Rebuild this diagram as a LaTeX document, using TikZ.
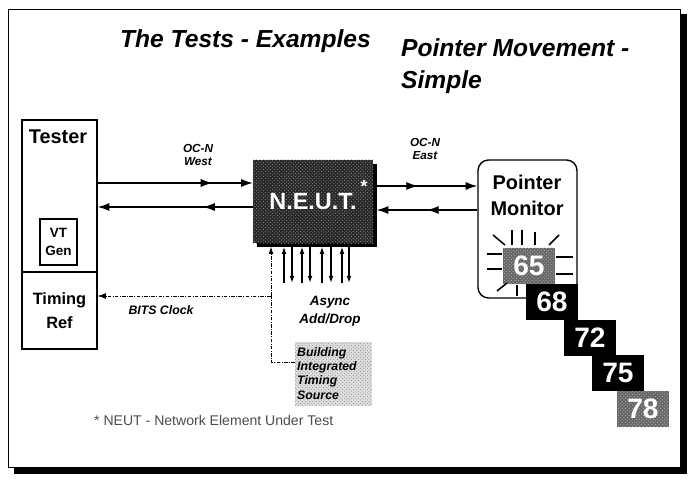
\documentclass[tikz,border=0pt]{standalone}
\usepackage{fontspec}
\setmainfont{Liberation Sans}
\usetikzlibrary{arrows.meta, positioning, calc, decorations.markings, patterns, shadows}

\tikzset{
  box/.style={draw, line width=1.2pt, inner sep=0pt},
  conn/.style={line width=1.1pt, -{Latex[length=10pt,width=7pt]}},
  midarrow/.style={decoration={markings, mark=at position #1 with {\arrow{Latex[length=10pt,width=7pt]}}}, postaction={decorate}},
  stub/.style={line width=1pt, -{Latex[length=6pt,width=4pt]}},
  clockline/.style={line width=0.6pt, dash pattern=on 3pt off 1.2pt on 0.8pt off 1.2pt},
  lbl/.style={font=\bfseries\itshape\fontsize{10}{11.5}\selectfont, align=center, inner sep=0pt},
  numbox/.style={minimum width=1.56cm, minimum height=1.08cm, inner sep=0pt, text=white,
    font=\bfseries\fontsize{24}{24}\selectfont},
}

\begin{document}
\begin{tikzpicture}[x=0.03cm, y=-0.03cm]
\useasboundingbox (0,0) rectangle (689,479);
% slide frame with shadow
\fill (681,14) rectangle (687,474);
\fill (14,468) rectangle (687,474);
\draw[line width=0.6pt] (8,9) rectangle (680,467);

% titles
\node[anchor=west, font=\bfseries\itshape\fontsize{21}{24}\selectfont] (title) at (116,41) {The Tests - Examples};
\node[anchor=west, font=\bfseries\itshape\fontsize{21}{24}\selectfont] (subtitle) at (397,48) {Pointer Movement -};
\node[anchor=west, font=\bfseries\itshape\fontsize{21}{24}\selectfont] (subtitle2) at (397,82) {Simple};

% tester side
\node[box, minimum width=2.25cm, minimum height=4.56cm] (tester) at (59.5,196) {};
\node[font=\bfseries\fontsize{17}{20}\selectfont] (testerlbl) at (58,137) {Tester};
\node[box, line width=1pt, minimum width=1.11cm, minimum height=1.38cm, align=center,
  font=\bfseries\fontsize{11.5}{15}\selectfont] (vtgen) at (58.5,242) {VT\\Gen};
\node[box, minimum width=2.25cm, minimum height=2.31cm, align=center,
  font=\bfseries\fontsize{14}{20}\selectfont] (timing) at (59.5,310.5) {Timing\\Ref};

% network element under test
\node[minimum width=3.6cm, minimum height=2.49cm, fill=black!85,
  postaction={pattern=crosshatch dots, pattern color=black!45},
  drop shadow={shadow xshift=3pt, shadow yshift=-3pt, opacity=1, fill=black},
  text=white, font=\bfseries\fontsize{20}{20}\selectfont] (neut) at (313,201.5) {N.E.U.T.};
\node[text=white, font=\bfseries\fontsize{15}{15}\selectfont, inner sep=0pt] (star) at (364,186) {*};

% pointer monitor
\node[box, rounded corners=9pt, minimum width=2.97cm, minimum height=4.14cm] (pmon) at (527.5,229) {};
\node[align=center, font=\bfseries\fontsize{17}{22}\selectfont] (pmonlbl) at (527,195) {Pointer\\Monitor};

% line arrows
\draw[conn, midarrow=0.74] (tester.east |- 0,183) -- (neut.west |- 0,183);
\draw[conn, midarrow=0.32] (neut.west |- 0,207) -- (tester.east |- 0,207);
\draw[conn, midarrow=0.43] (neut.east |- 0,186) -- (pmon.west |- 0,186);
\draw[conn, midarrow=0.5] (pmon.west |- 0,210) -- ([xshift=3pt]neut.east |- 0,210);
\node[lbl] (west) at (198,155) {OC-N\\West};
\node[lbl] (east) at (425,149) {OC-N\\East};

% add/drop tributaries
\foreach \x in {284,302,322,342}
  \draw[stub] (\x,283) -- ([yshift=-3pt]\x,0 |- neut.south);
\foreach \x in {292,310,331,349}
  \draw[stub] ([yshift=-3pt]\x,0 |- neut.south) -- (\x,283);
\node[lbl, font=\bfseries\itshape\fontsize{11.5}{15}\selectfont] (async) at (330,311) {Async\\Add/Drop};

% timing source
\node[minimum width=2.31cm, minimum height=1.89cm, fill=black!12,
  postaction={pattern=crosshatch dots, pattern color=black!45}] (bits) at (333.5,374) {};
\node[anchor=north west, align=left, inner sep=0pt, font=\bfseries\itshape\fontsize{10.5}{12.3}\selectfont] (bitslbl) at (297,347) {Building\\Integrated\\Timing\\Source};
\coordinate (bend) at (271,362);
\coordinate (tee) at (271,296);
\draw[clockline] (bits.west |- bend) -- (bend) -- (tee);
\draw[clockline, -{Latex[length=6pt,width=4pt]}] (tee) -- ([yshift=-3pt]271,0 |- neut.south);
\draw[clockline, -{Latex[length=7pt,width=5pt]}] (tee) -- (timing.east |- tee);
\node[lbl, font=\bfseries\itshape\fontsize{10.5}{12}\selectfont] (clk) at (161,310) {BITS Clock};

% pointer values
\node[numbox, fill=black!60, postaction={pattern=crosshatch dots, pattern color=black!30}] (p65) at (529,266) {65};
\foreach \a/\b/\c/\d in {-36/-31/-24/-21, -17/-36/-17/-21, -7/-36/-7/-21, 6/-34/6/-21, 30/-31/20/-21,
    -42/-12/-27/-12, -42/3/-27/3, 27/-9/44/-9, 27/8/44/8, -32/25/-22/17, -12/19/-12/30}
  \draw[line width=1.3pt] ($(p65)+(\a,\b)$) -- ($(p65)+(\c,\d)$);
\node[numbox, fill=black] (p68) at (552,302) {68};
\node[numbox, fill=black] (p72) at (590,338) {72};
\node[numbox, fill=black] (p75) at (618,373) {75};
\node[numbox, fill=black!60, postaction={pattern=crosshatch dots, pattern color=black!30}] (p78) at (643,409) {78};

% footnote
\node[anchor=west, text=black!70, font=\fontsize{12}{14}\selectfont] (note) at (90,420) {* NEUT - Network Element Under Test};
\end{tikzpicture}
\end{document}
